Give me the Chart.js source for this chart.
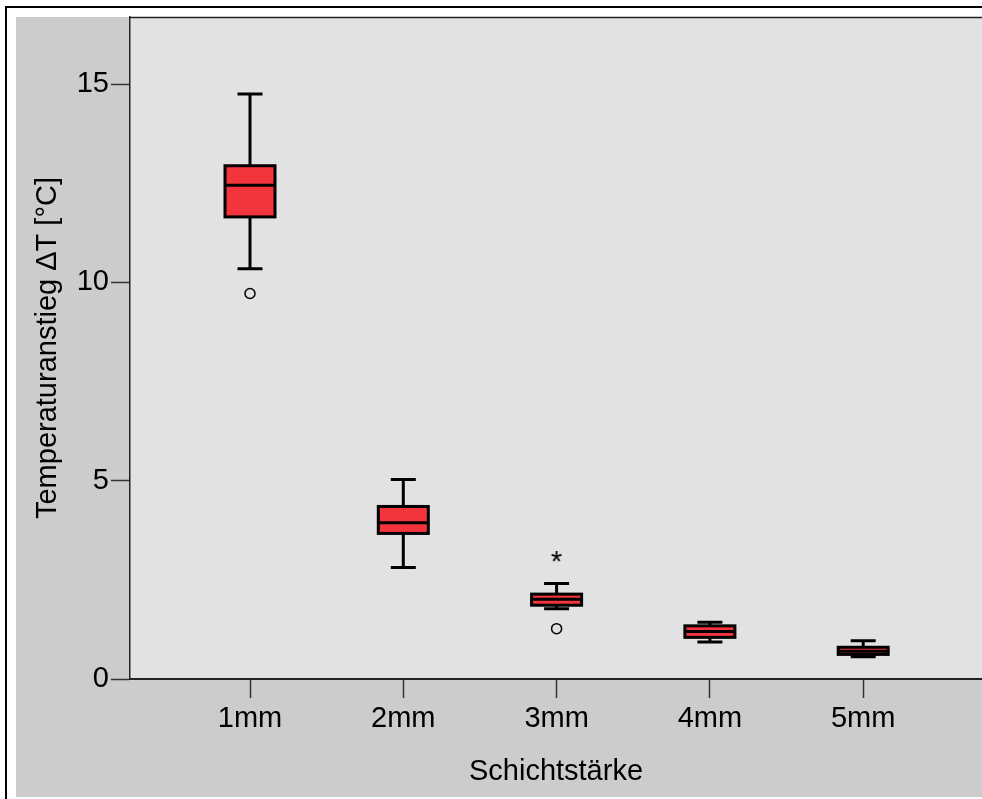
<!DOCTYPE html>
<html><head><meta charset="utf-8">
<script src="https://cdn.jsdelivr.net/npm/chart.js@4.4.1/dist/chart.umd.min.js"></script>
<style>html,body{margin:0;padding:0;background:#fff;} canvas{display:block;}</style>
</head><body>
<canvas id="c" width="982" height="799"></canvas>
<script>
// ---- data ----
const categories = ['1mm', '2mm', '3mm', '4mm', '5mm'];
const catPos = [1, 2, 3, 4, 5];
const whiskerLow  = [10.34, 2.81, 1.77, 0.93, 0.56];
const q1          = [11.65, 3.67, 1.86, 1.05, 0.62];
const median      = [12.45, 3.94, 2.01, 1.20, 0.70];
const q3          = [12.94, 4.35, 2.14, 1.34, 0.80];
const whiskerHigh = [14.75, 5.03, 2.41, 1.43, 0.965];
const outlierCat = [1, 3];
const outlierVal = [9.72, 1.27];
const extremeCat = [3];
const extremeVal = [3.10];
const yTicks = [0, 5, 10, 15];
const yTitle = 'Temperaturanstieg ΔT [°C]';
const xTitle = 'Schichtstärke';

// ---- styling ----
const FONT = { family: '"Liberation Sans", Arial, sans-serif', size: 29 };
const RED = '#f2353d';

function makeStar() {
  const c = document.createElement('canvas');
  c.width = 24; c.height = 24;
  const g = c.getContext('2d');
  g.fillStyle = '#000';
  g.font = '29px "Liberation Sans", Arial, sans-serif';
  g.textAlign = 'center';
  g.textBaseline = 'alphabetic';
  const m = g.measureText('*');
  const base = 12 + (m.actualBoundingBoxAscent - m.actualBoundingBoxDescent) / 2;
  g.fillText('*', 12, base);
  return c;
}

const framePlugin = {
  id: 'frame',
  beforeDraw(chart) {
    const { ctx, chartArea: a, width, height } = chart;
    ctx.save();
    ctx.fillStyle = '#fff'; ctx.fillRect(0, 0, width, height);
    ctx.fillStyle = '#cccccc'; ctx.fillRect(16, 17, width - 16, height - 19);
    ctx.strokeStyle = '#000'; ctx.lineWidth = 2;
    ctx.beginPath(); ctx.moveTo(6, height); ctx.lineTo(6, 7); ctx.lineTo(width, 7); ctx.stroke();
    ctx.fillStyle = '#e2e2e2'; ctx.fillRect(a.left, a.top, width - a.left, a.bottom - a.top);
    ctx.strokeStyle = '#222'; ctx.lineWidth = 1.5;
    ctx.beginPath(); ctx.moveTo(a.left, a.top + 0.5); ctx.lineTo(width, a.top + 0.5); ctx.stroke();
    ctx.restore();
  }
};

const boxPlugin = {
  id: 'boxDetails',
  beforeDatasetsDraw(chart) {
    const { ctx, scales: { x, y } } = chart;
    ctx.save();
    ctx.strokeStyle = '#000'; ctx.lineWidth = 3; ctx.lineCap = 'butt';
    catPos.forEach((c, i) => {
      const px = x.getPixelForValue(c);
      const capHalf = 12.5;
      const yl = y.getPixelForValue(whiskerLow[i]);
      const yh = y.getPixelForValue(whiskerHigh[i]);
      ctx.beginPath();
      ctx.moveTo(px, yl); ctx.lineTo(px, yh);
      ctx.moveTo(px - capHalf, yl); ctx.lineTo(px + capHalf, yl);
      ctx.moveTo(px - capHalf, yh); ctx.lineTo(px + capHalf, yh);
      ctx.stroke();
    });
    ctx.restore();
  },
  afterDatasetDraw(chart, args) {
    if (args.index !== 0) return;
    const { ctx, scales: { y } } = chart;
    const meta = chart.getDatasetMeta(0);
    ctx.save();
    ctx.strokeStyle = '#000'; ctx.lineWidth = 3;
    meta.data.forEach((el, i) => {
      const p = el.getProps(['x', 'y', 'base', 'width'], true);
      const left = p.x - p.width / 2, right = p.x + p.width / 2;
      const top = Math.min(p.y, p.base), bottom = Math.max(p.y, p.base);
      ctx.strokeRect(left, top, right - left, bottom - top);
      const ym = y.getPixelForValue(median[i]);
      ctx.beginPath(); ctx.moveTo(left, ym); ctx.lineTo(right, ym); ctx.stroke();
    });
    ctx.restore();
  }
};

new Chart(document.getElementById('c'), {
  type: 'bar',
  data: {
    datasets: [
      {
        label: 'box',
        data: catPos.map((c, i) => ({ x: c, y: [q1[i], q3[i]] })),
        backgroundColor: RED,
        borderWidth: 0,
        barThickness: 50
      },
      {
        type: 'scatter',
        label: 'outliers',
        data: outlierCat.map((c, i) => ({ x: c, y: outlierVal[i] })),
        pointStyle: 'circle',
        pointRadius: 5,
        borderColor: '#000',
        borderWidth: 1.5,
        backgroundColor: 'rgba(0,0,0,0)',
        showLine: false
      },
      {
        type: 'scatter',
        label: 'extremes',
        data: extremeCat.map((c, i) => ({ x: c, y: extremeVal[i] })),
        pointStyle: makeStar(),
        pointRadius: 6,
        showLine: false
      }
    ]
  },
  options: {
    responsive: false,
    animation: false,
    layout: { autoPadding: false, padding: { left: 16, top: 17, right: 0, bottom: 2 } },
    plugins: { legend: { display: false }, tooltip: { enabled: false } },
    scales: {
      x: {
        type: 'linear',
        offset: false,
        min: 0.2172, max: 5.775,
        afterBuildTicks: s => { s.ticks = catPos.map(v => ({ value: v })); },
        afterFit: s => { s.height = 118; s.paddingLeft = 0; s.paddingRight = 0; },
        grid: { offset: false, drawOnChartArea: false, drawTicks: true, tickLength: 19, tickColor: '#333', tickWidth: 1.5 },
        border: { display: true, color: '#222', width: 2 },
        ticks: {
          callback: v => { const k = catPos.indexOf(v); return k >= 0 ? categories[k] : ''; },
          font: FONT, color: '#000', padding: 4, maxRotation: 0, autoSkip: false
        },
        title: { display: true, text: xTitle, font: FONT, color: '#000', padding: { top: 0, bottom: 7.6 } }
      },
      y: {
        min: 0, max: 16.69,
        afterBuildTicks: s => { s.ticks = yTicks.map(v => ({ value: v })); },
        afterFit: s => { s.width = 114; s.paddingTop = 0; s.paddingBottom = 0; },
        grid: { drawOnChartArea: false, drawTicks: true, tickLength: 19, tickColor: '#333', tickWidth: 1.5 },
        border: { display: true, color: '#222', width: 1.5 },
        ticks: { font: FONT, color: '#000', padding: 2 },
        title: { display: true, text: yTitle, font: FONT, color: '#000', padding: { top: 14.6, bottom: 0 } }
      }
    }
  },
  plugins: [framePlugin, boxPlugin]
});
</script>
</body></html>
